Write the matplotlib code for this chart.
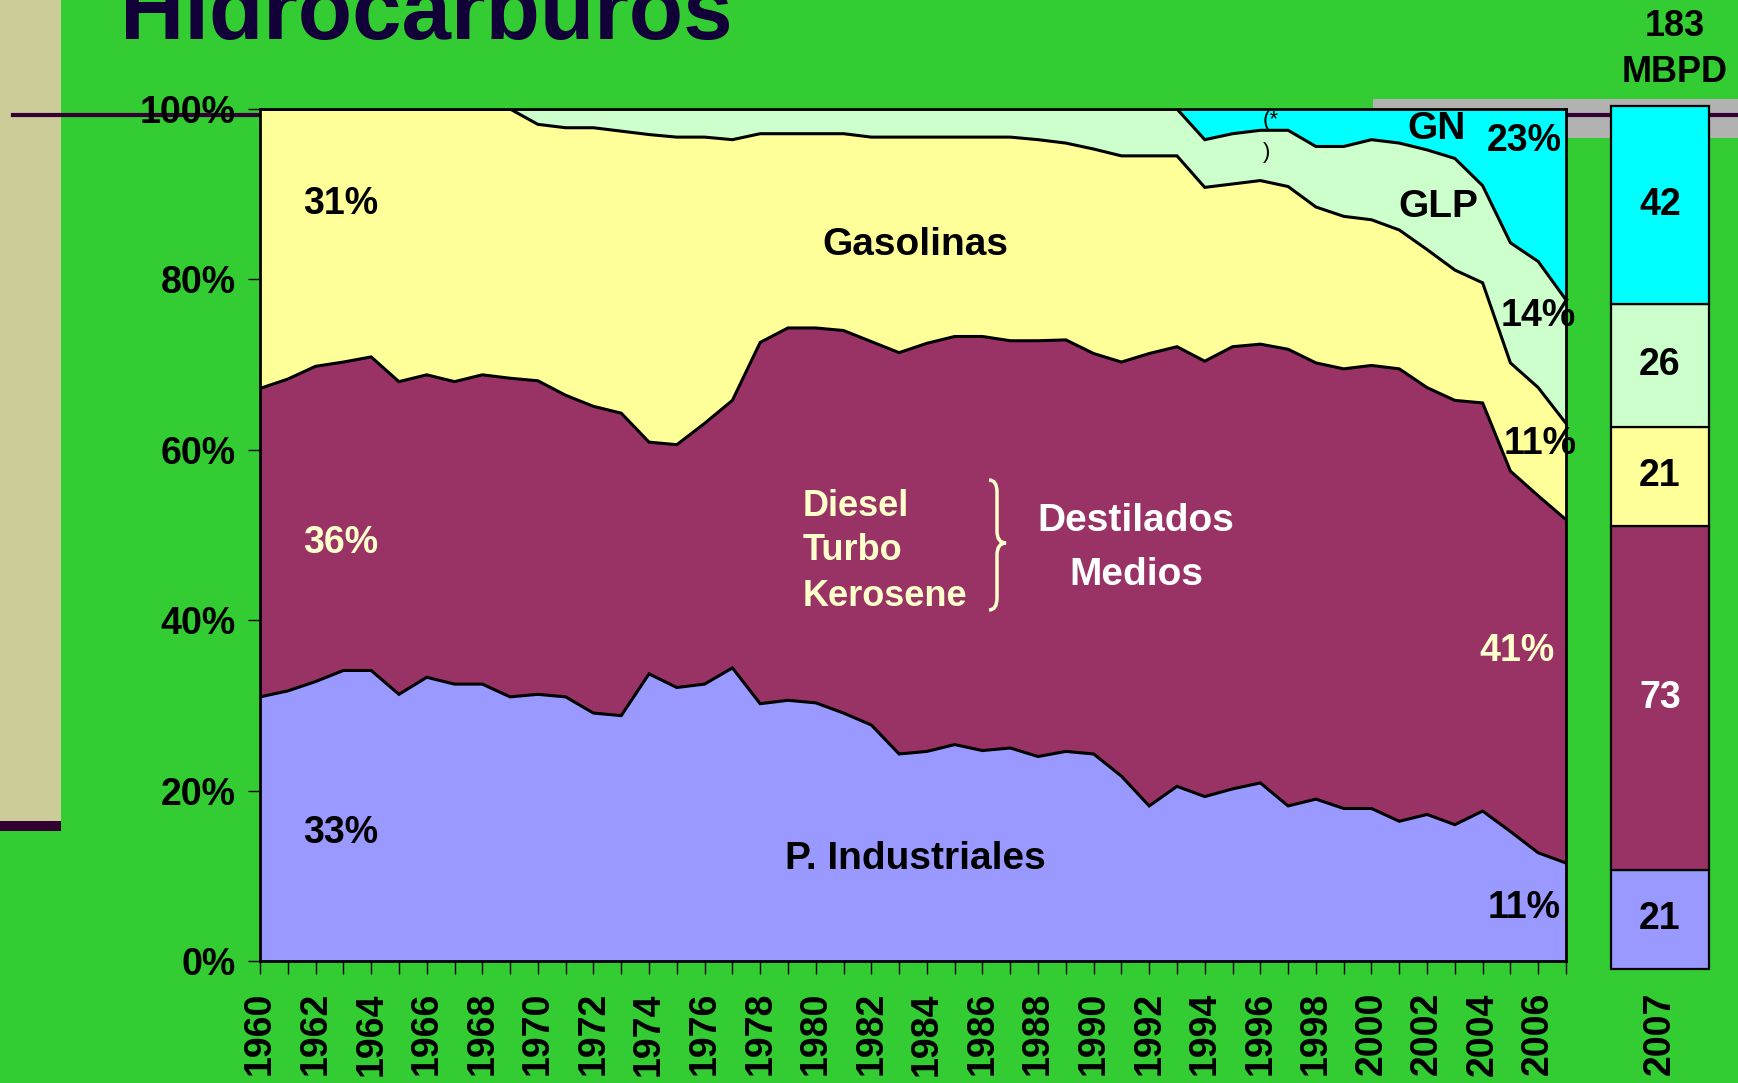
import numpy as np
import matplotlib
matplotlib.use("Agg")
import matplotlib.pyplot as plt
from matplotlib.patches import Rectangle, PathPatch
from matplotlib.path import Path
from matplotlib.lines import Line2D

plt.rcParams['font.family'] = ['Liberation Sans', 'DejaVu Sans']
plt.rcParams['font.weight'] = 'bold'

# ---------------- data ----------------
years = list(range(1960, 2008))

industriales = [31.0, 31.7, 32.8, 34.1, 34.1, 31.3, 33.3, 32.5, 32.5, 31.0,
                31.3, 31.0, 29.1, 28.8, 33.7, 32.1, 32.5, 34.4, 30.2, 30.6,
                30.3, 29.1, 27.7, 24.3, 24.6, 25.4, 24.7, 25.0, 24.0, 24.6,
                24.3, 21.7, 18.2, 20.5, 19.3, 20.2, 20.9, 18.2, 19.0, 17.9,
                17.9, 16.4, 17.2, 16.0, 17.6, 15.2, 12.7, 11.5]

destilados = [36.2, 36.6, 37.0, 36.2, 36.8, 36.7, 35.5, 35.5, 36.3, 37.4,
              36.8, 35.4, 36.0, 35.5, 27.2, 28.5, 30.6, 31.4, 42.4, 43.7,
              44.0, 44.9, 45.0, 47.1, 47.9, 47.9, 48.6, 47.8, 48.8, 48.3,
              47.0, 48.6, 53.1, 51.6, 51.1, 51.9, 51.5, 53.6, 51.2, 51.6,
              52.0, 53.1, 50.1, 49.8, 47.9, 42.3, 41.9, 40.3]

gasolinas = [32.8, 31.7, 30.2, 29.7, 29.1, 32.0, 31.2, 32.0, 31.2, 31.6,
             30.1, 31.4, 32.7, 33.1, 36.1, 36.1, 33.6, 30.6, 24.5, 22.8,
             22.8, 23.1, 24.0, 25.3, 24.2, 23.4, 23.4, 23.9, 23.6, 23.1,
             24.0, 24.2, 23.2, 22.4, 20.4, 19.1, 19.2, 19.1, 18.3, 17.9,
             17.1, 16.3, 16.2, 15.3, 14.1, 12.7, 12.7, 11.3]

glp = [0.0, 0.0, 0.0, 0.0, 0.0, 0.0, 0.0, 0.0, 0.0, 0.0,
       1.8, 2.2, 2.2, 2.6, 3.0, 3.3, 3.3, 3.6, 2.9, 2.9,
       2.9, 2.9, 3.3, 3.3, 3.3, 3.3, 3.3, 3.3, 3.6, 4.0,
       4.7, 5.5, 5.5, 5.5, 5.6, 5.9, 5.9, 6.6, 7.1, 8.2,
       9.4, 10.2, 11.7, 13.1, 11.4, 14.1, 14.8, 14.5]

gn = [0.0, 0.0, 0.0, 0.0, 0.0, 0.0, 0.0, 0.0, 0.0, 0.0,
      0.0, 0.0, 0.0, 0.0, 0.0, 0.0, 0.0, 0.0, 0.0, 0.0,
      0.0, 0.0, 0.0, 0.0, 0.0, 0.0, 0.0, 0.0, 0.0, 0.0,
      0.0, 0.0, 0.0, 0.0, 3.6, 2.9, 2.5, 2.5, 4.4, 4.4,
      3.6, 4.0, 4.8, 5.8, 9.0, 15.7, 17.9, 22.4]

colors = ['#9999ff', '#993366', '#ffff99', '#ccffcc', '#00ffff']

bar_year = '2007'
bar_values = [21, 73, 21, 26, 42]
bar_value_colors = ['black', '#ffffff', 'black', 'black', 'black']
bar_total = ['183', 'MBPD']

yticks = [0, 20, 40, 60, 80, 100]
ytick_labels = ['0%', '20%', '40%', '60%', '80%', '100%']
xtick_labels = [str(y) if y % 2 == 0 else '' for y in years]

# ---------------- figure ----------------
W, H = 1738, 1083
fig = plt.figure(figsize=(W / 100, H / 100), dpi=100, facecolor='#33cc33')


def fx(px):
    return px / W


def fy(py):
    return 1 - py / H


# background decorations
fig.patches.append(Rectangle((0, fy(821)), fx(61), 821 / H, transform=fig.transFigure,
                             facecolor='#cccc99', edgecolor='none', zorder=-2))
fig.patches.append(Rectangle((0, fy(831)), fx(61), 10 / H, transform=fig.transFigure,
                             facecolor='#330033', edgecolor='none', zorder=-2))
fig.patches.append(Rectangle((fx(1373), fy(138)), 1 - fx(1373), 39 / H, transform=fig.transFigure,
                             facecolor='#b2b2b2', edgecolor='none', zorder=-2))
fig.lines.append(Line2D([fx(13), 1.0], [fy(115), fy(115)], transform=fig.transFigure,
                        color='#330033', lw=3, zorder=-1))

fig.text(fx(120), fy(39), 'Hidrocarburos', fontsize=64, color='#120038',
         fontweight='bold', ha='left', va='baseline')

# ---------------- main stacked area ----------------
ax = fig.add_axes([fx(260), fy(961), fx(1566) - fx(260), (961 - 109) / H])
ax.patch.set_visible(False)
ax.stackplot(years, industriales, destilados, gasolinas, glp, gn,
             colors=colors, linewidth=0)
cum = np.cumsum([industriales, destilados, gasolinas, glp], axis=0)
for c in cum:
    ax.plot(years, c, color='black', lw=2.2, solid_joinstyle='miter')

ax.set_xlim(1960, 2007)
ax.set_ylim(0, 100)
for s in ax.spines.values():
    s.set_linewidth(2)
    s.set_color('black')
    s.set_zorder(5)

ax.set_yticks(yticks)
ax.set_yticklabels(ytick_labels)
ax.set_xticks(years)
ax.set_xticklabels(xtick_labels, rotation=90)
ax.tick_params(axis='y', direction='out', length=8.5, width=1, pad=9, labelsize=27)
ax.tick_params(axis='x', direction='out', length=9.4, width=1, pad=13, labelsize=27)

cream = '#ffffcc'
txt = dict(ha='center', va='center', fontweight='bold')
ax.text(1962.9, 88.8, '31%', fontsize=27, color='black', **txt)
ax.text(1983.6, 84.0, 'Gasolinas', fontsize=28, color='black', **txt)
ax.text(1962.9, 49.1, '36%', fontsize=27, color=cream, **txt)
ax.text(1962.9, 15.0, '33%', fontsize=27, color='black', **txt)
ax.text(1983.6, 12.0, 'P. Industriales', fontsize=28, color='black', **txt)
for lab, yv in zip(['Diesel', 'Turbo', 'Kerosene'], [53.3, 48.2, 42.8]):
    ax.text(1979.53, yv, lab, fontsize=26, color=cream, ha='left', va='center',
            fontweight='bold')
ax.text(1991.51, 51.6, 'Destilados', fontsize=28, color='white', **txt)
ax.text(1991.55, 45.3, 'Medios', fontsize=28, color='white', **txt)
ax.text(2005.25, 36.35, '41%', fontsize=27, color=cream, **txt)
ax.text(2005.5, 6.2, '11%', fontsize=27, color='black', **txt)
ax.text(2006.06, 60.7, '11%', fontsize=27, color='black', **txt)
ax.text(2006.0, 75.7, '14%', fontsize=27, color='black', **txt)
ax.text(2002.41, 88.5, 'GLP', fontsize=28, color='black', **txt)
ax.text(2002.33, 97.6, 'GN', fontsize=28, color='black', **txt)
ax.text(2005.5, 96.3, '23%', fontsize=27, color='black', **txt)
ax.text(1996.1, 98.6, '(*', fontsize=16, color='black', ha='left', va='center',
        fontweight='normal')
ax.text(1996.1, 94.9, ')', fontsize=16, color='black', ha='left', va='center',
        fontweight='normal')

# curly brace
bp = [(989, 480), (997, 480), (997, 492), (997, 531), (997, 543), (1006, 543),
      (997, 543), (997, 555), (997, 598), (997, 610), (989, 610)]
codes = [Path.MOVETO, Path.CURVE3, Path.CURVE3, Path.LINETO, Path.CURVE3, Path.CURVE3,
         Path.CURVE3, Path.CURVE3, Path.LINETO, Path.CURVE3, Path.CURVE3]
brace = Path([(fx(x), fy(y)) for x, y in bp], codes)
fig.patches.append(PathPatch(brace, transform=fig.transFigure, fill=False,
                             edgecolor=cream, lw=2.5, zorder=5))

# ---------------- 2007 bar ----------------
bx = fig.add_axes([fx(1611), fy(969), fx(1709) - fx(1611), (969 - 106) / H])
bx.patch.set_visible(False)
bottoms = np.concatenate([[0], np.cumsum(bar_values)[:-1]])
bars = bx.bar(0, bar_values, bottom=bottoms, width=1, color=colors,
              edgecolor='black', linewidth=1.6)
for b in bars:
    b.set_clip_on(False)
bx.set_xlim(-0.5, 0.5)
bx.set_ylim(0, sum(bar_values))
for s in bx.spines.values():
    s.set_visible(False)
bx.set_yticks([])
bx.set_xticks([0])
bx.set_xticklabels([bar_year], rotation=90)
bx.tick_params(axis='x', length=0, pad=16, labelsize=27)
for v, b0, c in zip(bar_values, bottoms, bar_value_colors):
    bx.text(0, b0 + v / 2, str(v), fontsize=27, color=c, **txt)

fig.text(fx(1675), fy(27), bar_total[0], fontsize=26, color='black', **txt)
fig.text(fx(1675), fy(72), bar_total[1], fontsize=26, color='black', **txt)

fig.savefig('out.png', dpi=100, facecolor=fig.get_facecolor())
